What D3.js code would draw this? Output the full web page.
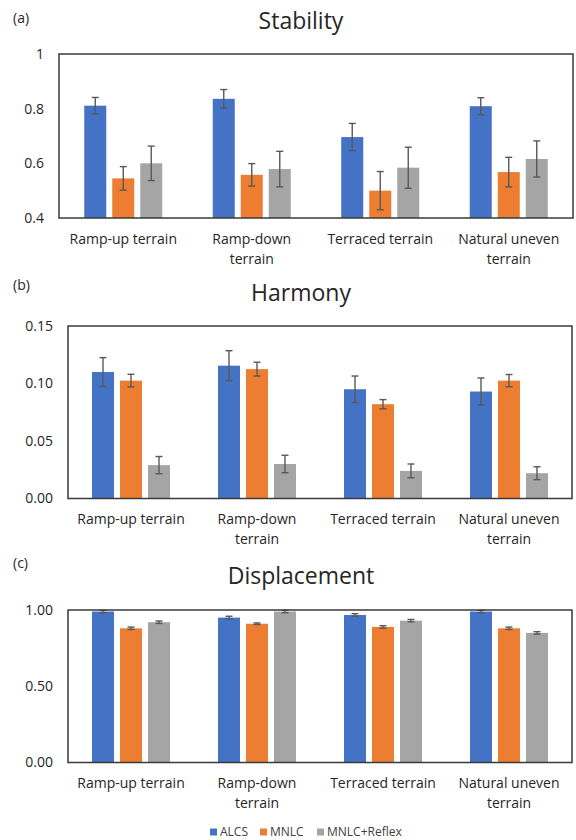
<!DOCTYPE html>
<html>
<head>
<meta charset="utf-8">
<script src="https://cdn.jsdelivr.net/npm/d3@7"></script>
<style>
  html, body { margin: 0; padding: 0; background: #fff; }
  svg { display: block; font-family: "Open Sans", "Noto Sans", sans-serif; }
</style>
</head>
<body>
<svg id="chart" width="576" height="840"></svg>
<script>
// Terrain conditions and controllers
const categories = ["Ramp-up terrain", "Ramp-down terrain", "Terraced terrain", "Natural uneven terrain"];
const categoryLines = [["Ramp-up terrain"], ["Ramp-down", "terrain"], ["Terraced terrain"], ["Natural uneven", "terrain"]];
const seriesNames = ["ALCS", "MNLC", "MNLC+Reflex"];
const seriesColors = ["#4472C4", "#ED7D31", "#A5A5A5"];

// (a) Stability: means and standard deviations
const stabilityALCS = [0.811, 0.836, 0.696, 0.809];
const stabilityMNLC = [0.545, 0.558, 0.500, 0.568];
const stabilityReflex = [0.600, 0.579, 0.584, 0.616];
const stabilityALCSErr = [0.030, 0.034, 0.050, 0.031];
const stabilityMNLCErr = [0.043, 0.041, 0.070, 0.054];
const stabilityReflexErr = [0.063, 0.065, 0.075, 0.066];

// (b) Harmony
const harmonyALCS = [0.110, 0.1155, 0.095, 0.093];
const harmonyMNLC = [0.1025, 0.1125, 0.082, 0.1025];
const harmonyReflex = [0.029, 0.030, 0.024, 0.022];
const harmonyALCSErr = [0.0125, 0.013, 0.0115, 0.0118];
const harmonyMNLCErr = [0.0055, 0.006, 0.004, 0.0053];
const harmonyReflexErr = [0.0075, 0.0076, 0.006, 0.0056];

// (c) Displacement
const displacementALCS = [0.990, 0.950, 0.967, 0.990];
const displacementMNLC = [0.880, 0.910, 0.889, 0.880];
const displacementReflex = [0.920, 0.990, 0.930, 0.850];
const displacementALCSErr = [0.008, 0.009, 0.009, 0.008];
const displacementMNLCErr = [0.008, 0.005, 0.008, 0.008];
const displacementReflexErr = [0.008, 0.008, 0.008, 0.008];

// Axis ticks
const stabilityTicks = [0.4, 0.6, 0.8, 1];
const harmonyTicks = [0, 0.05, 0.10, 0.15];
const displacementTicks = [0, 0.5, 1];

const panels = [
  { letter: "(a)", title: "Stability", letterY: 18, titleY: 21,
    box: { left: 59, right: 573, top: 54, bottom: 218 },
    domain: [0.4, 1], ticks: stabilityTicks, fmt: d3.format("~g"),
    means: [stabilityALCS, stabilityMNLC, stabilityReflex],
    errs: [stabilityALCSErr, stabilityMNLCErr, stabilityReflexErr] },
  { letter: "(b)", title: "Harmony", letterY: 285, titleY: 293,
    box: { left: 68, right: 572, top: 326, bottom: 498.5 },
    domain: [0, 0.15], ticks: harmonyTicks, fmt: d3.format(".2f"),
    means: [harmonyALCS, harmonyMNLC, harmonyReflex],
    errs: [harmonyALCSErr, harmonyMNLCErr, harmonyReflexErr] },
  { letter: "(c)", title: "Displacement", letterY: 563, titleY: 576,
    box: { left: 68, right: 572, top: 610, bottom: 762.5 },
    domain: [0, 1], ticks: displacementTicks, fmt: d3.format(".2f"),
    means: [displacementALCS, displacementMNLC, displacementReflex],
    errs: [displacementALCSErr, displacementMNLCErr, displacementReflexErr] }
];

const svg = d3.select("#chart");
const textColor = "#262626";

panels.forEach(p => {
  const g = svg.append("g");
  const b = p.box;

  const x0 = d3.scaleBand().domain(categories).range([b.left, b.right]);
  const x1 = d3.scaleBand().domain(seriesNames).range([0, 84]).paddingInner(0.214).paddingOuter(0.107);
  const y = d3.scaleLinear().domain(p.domain).range([b.bottom, b.top]);

  // Panel letter and title
  g.append("text").attr("x", 13).attr("y", p.letterY).attr("dy", "0.35em")
    .attr("font-size", 14).attr("fill", textColor).text(p.letter);
  g.append("text").attr("x", 301).attr("y", p.titleY).attr("dy", "0.35em")
    .attr("text-anchor", "middle").attr("font-size", 23).attr("fill", textColor).text(p.title);

  // Bars
  const rows = [];
  categories.forEach((c, i) => {
    seriesNames.forEach((s, k) => {
      rows.push({ cat: c, series: s, k, mean: p.means[k][i], err: p.errs[k][i] });
    });
  });
  const groupOffset = x0.bandwidth() / 2 - 42;
  const cx = d => x0(d.cat) + groupOffset + x1(d.series) + x1.bandwidth() / 2;

  g.append("g").selectAll("rect").data(rows).join("rect")
    .attr("x", d => x0(d.cat) + groupOffset + x1(d.series))
    .attr("width", x1.bandwidth())
    .attr("y", d => y(d.mean))
    .attr("height", d => y(p.domain[0]) - y(d.mean))
    .attr("fill", d => seriesColors[d.k]);

  // Error bars
  const eb = g.append("g").attr("stroke", "#595959").attr("stroke-width", 1.4).attr("fill", "none");
  rows.forEach(d => {
    const xc = cx(d);
    const top = y(Math.min(d.mean + d.err, p.domain[1]));
    const bot = y(d.mean - d.err);
    eb.append("line").attr("x1", xc).attr("x2", xc).attr("y1", top).attr("y2", bot);
    if (d.mean + d.err <= p.domain[1]) {
      eb.append("line").attr("x1", xc - 3.5).attr("x2", xc + 3.5).attr("y1", top).attr("y2", top);
    }
    eb.append("line").attr("x1", xc - 3.5).attr("x2", xc + 3.5).attr("y1", bot).attr("y2", bot);
  });

  // Plot frame
  g.append("rect").attr("x", b.left).attr("y", b.top)
    .attr("width", b.right - b.left).attr("height", b.bottom - b.top)
    .attr("fill", "none").attr("stroke", "#3a3a3a").attr("stroke-width", 1.5);

  // Y axis
  const yAxis = g.append("g").attr("transform", `translate(${b.left - 15},0)`)
    .call(d3.axisLeft(y).tickValues(p.ticks).tickFormat(p.fmt).tickSize(0).tickPadding(0));
  yAxis.select(".domain").remove();
  yAxis.selectAll("text").attr("font-size", 14).attr("fill", textColor)
    .attr("font-family", "\"Open Sans\", \"Noto Sans\", sans-serif");

  // X axis with wrapped category labels
  const xAxis = g.append("g").attr("transform", `translate(0,${b.bottom})`)
    .call(d3.axisBottom(x0).tickSize(0).tickFormat(""));
  xAxis.select(".domain").remove();
  xAxis.selectAll(".tick").each(function (c, i) {
    const t = d3.select(this).append("text")
      .attr("y", 21).attr("dy", "0.35em").attr("text-anchor", "middle")
      .attr("font-size", 14).attr("fill", textColor)
      .attr("font-family", "\"Open Sans\", \"Noto Sans\", sans-serif");
    categoryLines[i].forEach((line, j) => {
      t.append("tspan").attr("x", 0).attr("y", 21 + j * 20).attr("dy", "0.35em").text(line);
    });
  });
});

// Legend
const legendItems = [
  { name: seriesNames[0], color: seriesColors[0], x: 210 },
  { name: seriesNames[1], color: seriesColors[1], x: 260 },
  { name: seriesNames[2], color: seriesColors[2], x: 317 }
];
const legend = svg.append("g");
legendItems.forEach(it => {
  legend.append("rect").attr("x", it.x).attr("y", 828.5).attr("width", 7).attr("height", 7).attr("fill", it.color);
  legend.append("text").attr("x", it.x + 10).attr("y", 832).attr("dy", "0.35em")
    .attr("font-size", 12).attr("fill", "#404040").text(it.name);
});
</script>
</body>
</html>
